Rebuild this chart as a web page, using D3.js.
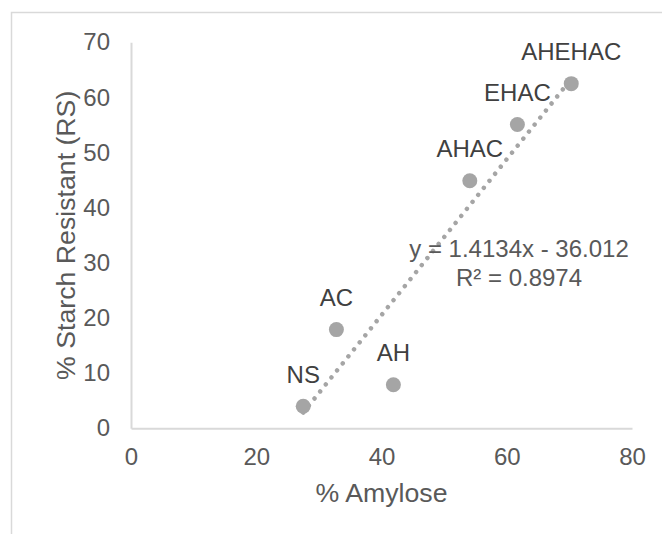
<!DOCTYPE html>
<meta charset="utf-8">
<style>
  body { margin: 0; background: #fff; }
  text { font-family: "Liberation Sans", Arial, sans-serif; }
</style>
<div id="chart"></div>
<script src="https://d3js.org/d3.v7.min.js"></script>
<script>
// data
var samples = ["NS", "AC", "AH", "AHAC", "EHAC", "AHEHAC"];
var amylose = [27.5, 32.8, 41.9, 54.1, 61.7, 70.3];
var starchRS = [4.0, 17.9, 7.9, 44.9, 55.1, 62.5];
var trendSlope = 1.4134, trendIntercept = -36.012, trendR2 = 0.8974;
var xTicks = [0, 20, 40, 60, 80];
var yTicks = [0, 10, 20, 30, 40, 50, 60, 70];

var W = 662, H = 534;
var svg = d3.select("#chart").append("svg")
    .attr("width", W).attr("height", H);

svg.append("rect").attr("width", W).attr("height", H).attr("fill", "#fff");

// chart border (runs off the right/bottom of the picture)
svg.append("rect")
    .attr("x", 11.5).attr("y", 12.5)
    .attr("width", 800).attr("height", 700)
    .attr("fill", "none").attr("stroke", "#d9d9d9").attr("stroke-width", 1.5);

var x = d3.scaleLinear().domain([0, 80]).range([131, 632]);
var y = d3.scaleLinear().domain([0, 70]).range([428.3, 42.3]);

// y axis
var yAxis = svg.append("g")
    .attr("transform", "translate(" + x(0) + ",0)")
    .call(d3.axisLeft(y).tickValues(yTicks).tickSize(0).tickPadding(21));
// x axis
var xAxis = svg.append("g")
    .attr("transform", "translate(0," + y(0) + ")")
    .call(d3.axisBottom(x).tickValues(xTicks).tickSize(0).tickPadding(20));

[xAxis, yAxis].forEach(function(a) {
  a.select(".domain").attr("stroke", "#d9d9d9").attr("stroke-width", 2);
  a.selectAll("text")
    .attr("fill", "#595959")
    .style("font-size", "24px")
    .style("font-family", "'Liberation Sans', Arial, sans-serif");
});

// axis titles
svg.append("text")
    .attr("x", (x(0) + x(80)) / 2).attr("y", 502)
    .attr("text-anchor", "middle")
    .attr("fill", "#595959").style("font-size", "26.7px")
    .text("% Amylose");

svg.append("text")
    .attr("transform", "translate(75," + (y(35)) + ") rotate(-90)")
    .attr("text-anchor", "middle")
    .attr("fill", "#595959").style("font-size", "26.7px")
    .text("% Starch Resistant (RS)");

// linear trendline
var xMin = d3.min(amylose), xMax = d3.max(amylose);
svg.append("line")
    .attr("x1", x(xMin)).attr("y1", y(trendSlope * xMin + trendIntercept))
    .attr("x2", x(xMax)).attr("y2", y(trendSlope * xMax + trendIntercept))
    .attr("stroke", "#a5a5a5").attr("stroke-width", 4.5)
    .attr("stroke-linecap", "round").attr("stroke-dasharray", "0.01 9");

// points
var pts = samples.map(function(s, i) { return {name: s, ax: amylose[i], rs: starchRS[i]}; });

svg.selectAll("circle.pt")
  .data(pts)
  .enter().append("circle")
    .attr("class", "pt")
    .attr("cx", function(d) { return x(d.ax); })
    .attr("cy", function(d) { return y(d.rs); })
    .attr("r", 7.5)
    .attr("fill", "#a5a5a5");

svg.selectAll("text.lbl")
  .data(pts)
  .enter().append("text")
    .attr("class", "lbl")
    .attr("x", function(d) { return x(d.ax); })
    .attr("y", function(d) { return y(d.rs) - 23.5; })
    .attr("text-anchor", "middle")
    .attr("fill", "#404040").style("font-size", "24px")
    .text(function(d) { return d.name; });

// trendline equation
var eq = svg.append("text")
    .attr("text-anchor", "middle")
    .attr("fill", "#595959").style("font-size", "24px");
eq.append("tspan").attr("x", 519).attr("y", 257)
    .text("y = " + trendSlope + "x - " + Math.abs(trendIntercept));
eq.append("tspan").attr("x", 519).attr("y", 285.5)
    .text("R² = " + trendR2);
</script>
